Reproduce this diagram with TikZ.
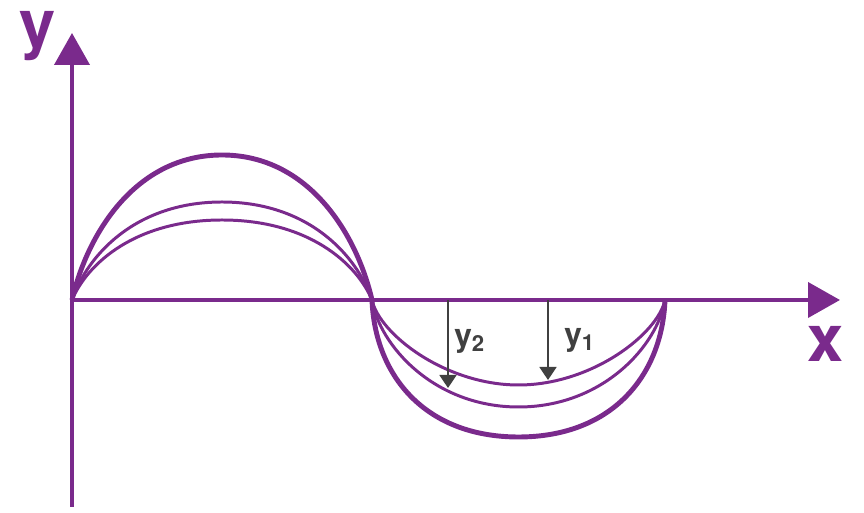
\documentclass[tikz,border=0pt]{standalone}
\usepackage{fontspec}
\setmainfont{TeX Gyre Heros}
\usetikzlibrary{arrows.meta}
\definecolor{wavepurple}{RGB}{122,42,140}
\definecolor{arrowgray}{RGB}{64,64,64}
\tikzset{
    axis/.style={wavepurple, line width=2.3pt, -{Triangle[length=0.64cm,width=0.7cm]}},
    axislabel/.style={wavepurple, inner sep=0pt, anchor=base, font=\fontsize{37}{40}\selectfont\bfseries},
    wave/.style={wavepurple, line width=1.7pt},
    outerwave/.style={wavepurple, line width=2.8pt},
    disp/.style={arrowgray, line width=1.1pt, -{Triangle[length=0.26cm,width=0.34cm]}},
    displabel/.style={arrowgray, inner sep=0pt, anchor=west, font=\fontsize{18}{20}\selectfont\bfseries}
}
\begin{document}
\begin{tikzpicture}
    \useasboundingbox (-1.44,-4.26) rectangle (15.84,6.0);

    % Waves above the axis
    \foreach \a/\s in {1.6/wave, 1.96/wave, 2.9/outerwave} {
        \draw[\s] (0,0) .. controls (0.3,0.45*\a) and (1.26,\a) .. (3,\a)
            .. controls (4.74,\a) and (5.7,0.45*\a) .. (6,0);
    }
    % Waves below the axis
    \foreach \b/\p/\q/\r/\s in {1.7/0.05/0.4/0.5/wave, 2.14/0.05/0.42/0.42/wave, 2.74/0.02/0.55/0.36/outerwave} {
        \draw[\s] (6,0) .. controls (6+2.93*\p,-\q*\b) and (6+2.93*\r,-\b) .. (8.93,-\b)
            .. controls (11.86-2.93*\r,-\b) and (11.86-2.93*\p,-\q*\b) .. (11.86,0);
    }

    % Axes
    \coordinate (origin) at (0,0);
    \coordinate (ybottom) at (0,-4.14);
    \coordinate (ytip) at (0,5.34);
    \coordinate (xtip) at (15.36,0);
    \draw[axis] (ybottom) -- (ytip);
    \draw[axis] (origin) -- (xtip);
    \node[axislabel] (ylabel) at (-0.68,5.06) {y};
    \node[axislabel] (xlabel) at (15.08,-1.24) {x};

    % Displacements
    \coordinate (ytwotop) at (7.52,0);
    \coordinate (ytwotip) at (7.52,-1.76);
    \coordinate (yonetop) at (9.52,0);
    \coordinate (yonetip) at (9.52,-1.6);
    \draw[disp] (ytwotop) -- (ytwotip);
    \draw[disp] (yonetop) -- (yonetip);
    \node[displabel] (ytwolabel) at (7.64,-0.82) {y$_{\mathbf{2}}$};
    \node[displabel] (yonelabel) at (9.84,-0.8) {y$_{\mathbf{1}}$};
\end{tikzpicture}
\end{document}
